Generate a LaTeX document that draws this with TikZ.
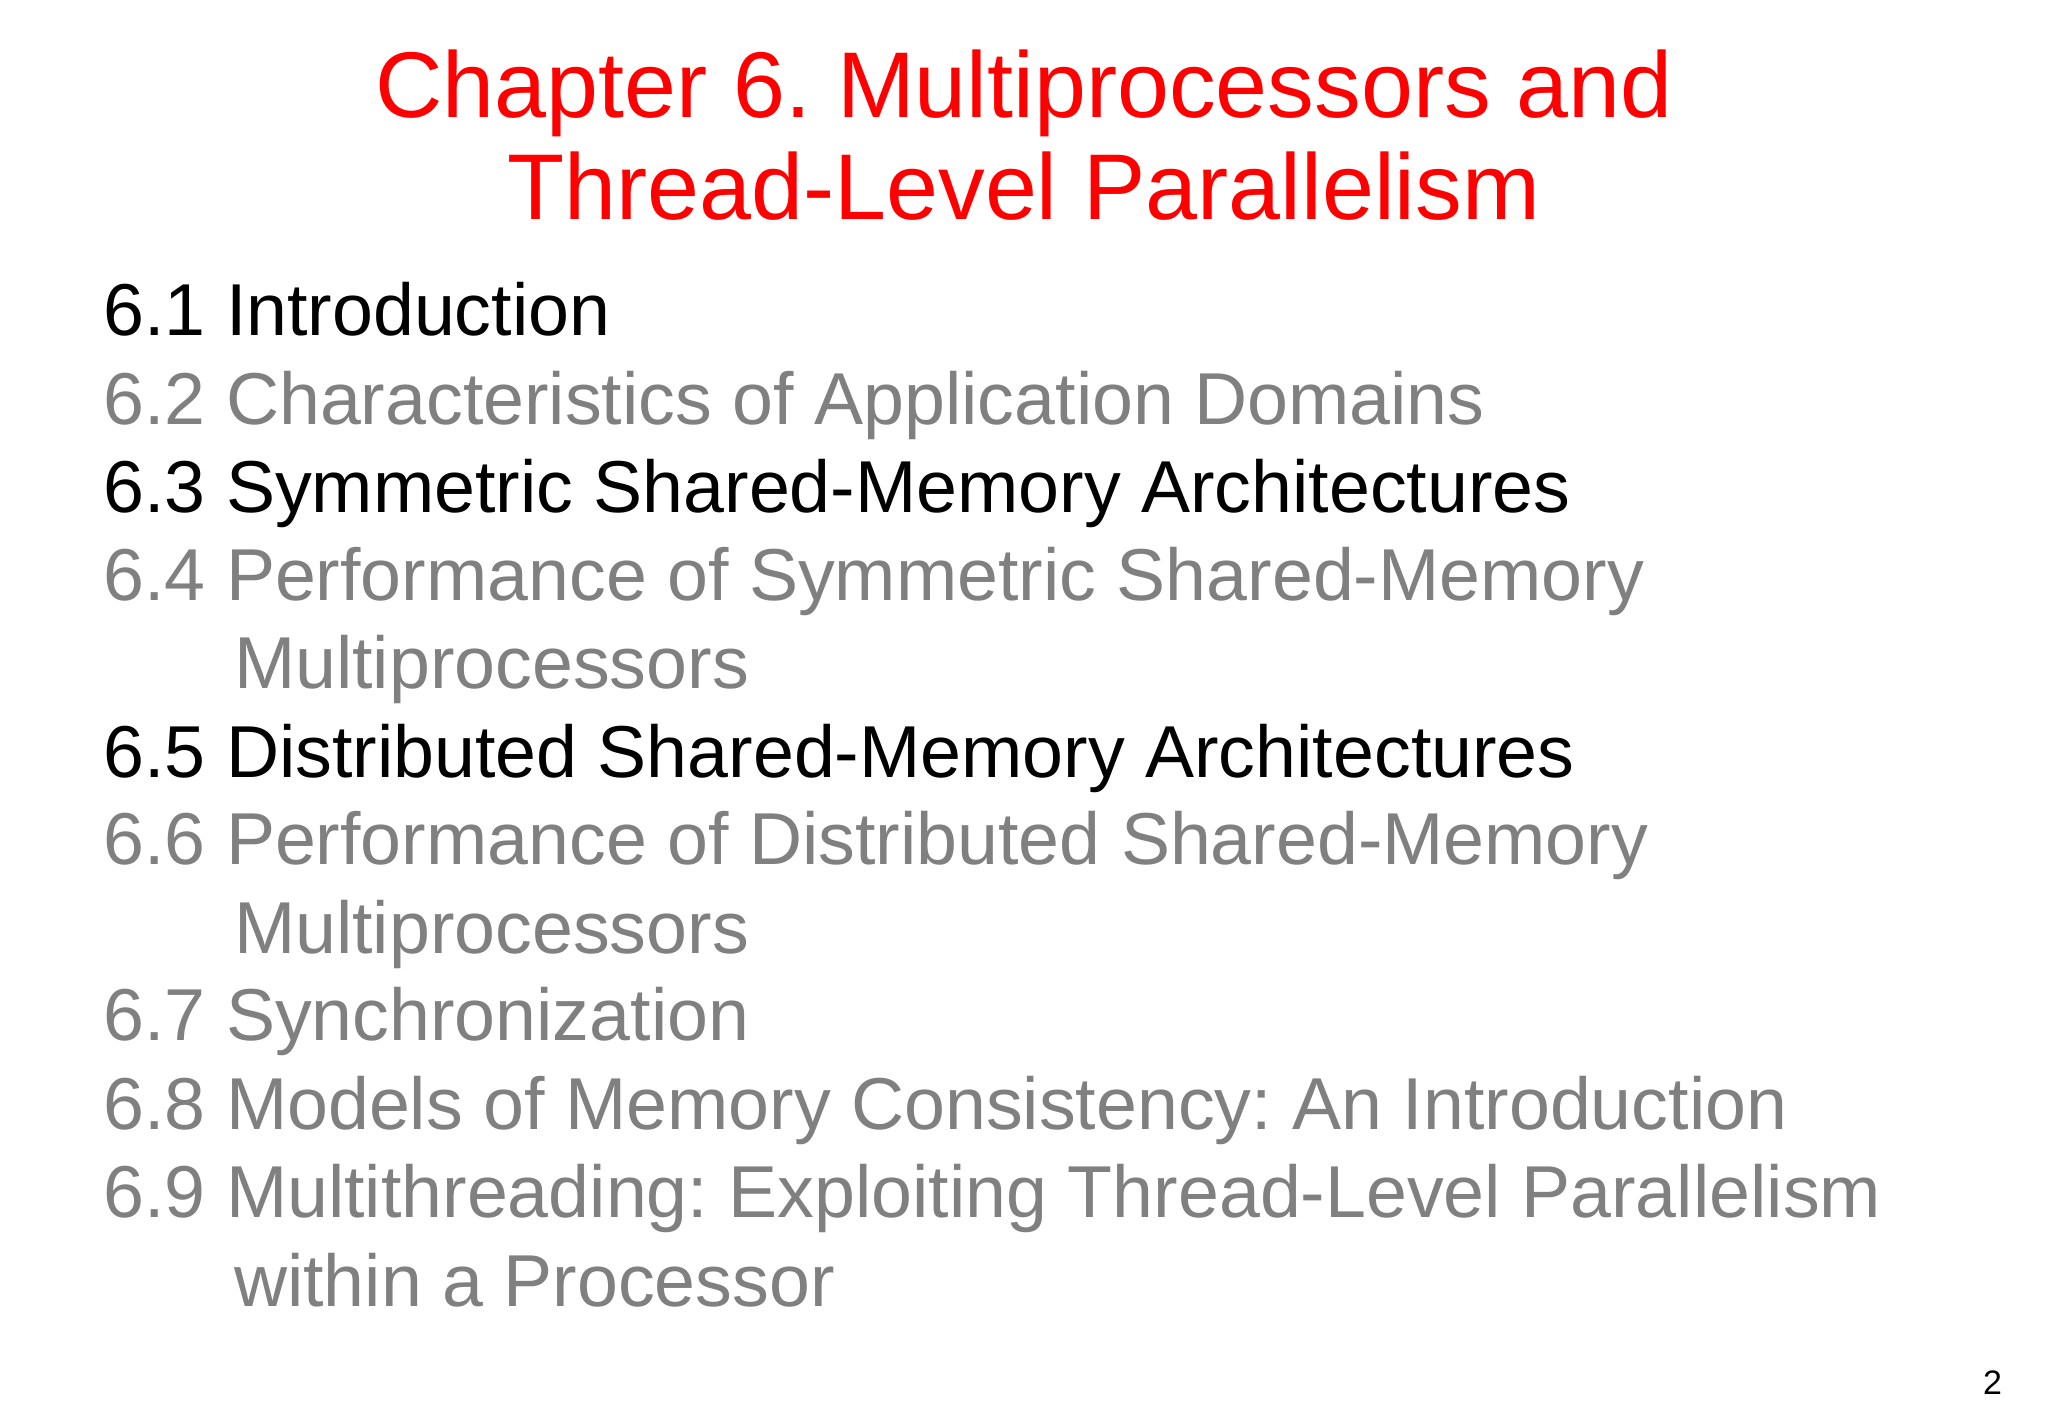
\documentclass[tikz,border=0pt]{standalone}
\usepackage{fontspec}
\setmainfont{Liberation Sans}
\frenchspacing
\definecolor{ttl}{RGB}{255,0,0}
\definecolor{dim}{RGB}{128,128,128}
\begin{document}
\begin{tikzpicture}[x=1pt,y=-1pt,
 tl/.style={anchor=base,text=ttl,font=\fontsize{71.5}{71.5}\selectfont,inner sep=0},
 it/.style={anchor=base west,font=\fontsize{56.3}{56.3}\selectfont,inner sep=0},
 act/.style={it,text=black}, inact/.style={it,text=dim}]
\useasboundingbox[fill=white] (0,0) rectangle (1568,1086);
\node[tl] (t1) at (784,90) {Chapter 6. Multiprocessors and};
\node[tl] (t2) at (784,168) {Thread-Level Parallelism};
\node[act] (a) at (79,257) {6.1 Introduction};
\node[inact] (b) at (79,325) {6.2 Characteristics of Application Domains};
\node[act] (c) at (79,392) {6.3 Symmetric Shared-Memory Architectures};
\node[inact] (d) at (79,460) {6.4 Performance of Symmetric Shared-Memory};
\node[inact] (d2) at (179,527) {Multiprocessors};
\node[act] (e) at (79,595) {6.5 Distributed Shared-Memory Architectures};
\node[inact] (f) at (79,662) {6.6 Performance of Distributed Shared-Memory};
\node[inact] (f2) at (179,730) {Multiprocessors};
\node[inact] (g) at (79,797) {6.7 Synchronization};
\node[inact] (h) at (79,865) {6.8 Models of Memory Consistency: An Introduction};
\node[inact] (i) at (79,932) {6.9 Multithreading: Exploiting Thread-Level Parallelism};
\node[inact] (i2) at (179,1000) {within a Processor};
\node[anchor=base east,font=\fontsize{26}{26}\selectfont,inner sep=0] (p) at (1533,1068) {2};
\end{tikzpicture}
\end{document}
